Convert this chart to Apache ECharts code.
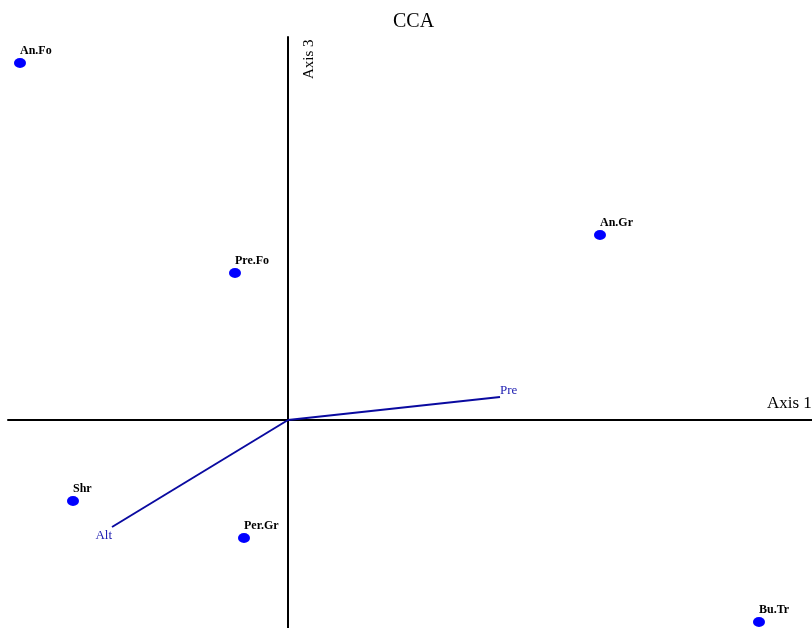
<!DOCTYPE html>
<html style="height: 100%">
<head>
    <meta charset="utf-8">
    <script src="https://cdn.jsdelivr.net/npm/echarts@6/dist/echarts.min.js"></script>
</head>
<body style="height: 100%; width: 100%; margin: 0; background-color: #ffffff;">

    <div id="container" style="width: 812px; height: 628px;"></div>

    <script type="text/javascript">
        // sites (scores)
        var siteNames = ['An.Fo', 'Pre.Fo', 'An.Gr', 'Shr', 'Per.Gr', 'Bu.Tr'];
        var siteX = [-2.68, -0.53, 3.12, -2.15, -0.44, 4.71];
        var siteY = [3.57, 1.47, 1.85, -0.81, -1.18, -2.02];

        // environmental vectors
        var envNames = ['Pre', 'Alt'];
        var envX = [2.12, -1.76];
        var envY = [0.23, -1.07];

        var dom = document.getElementById("container");
        var myChart = echarts.init(dom);
        var serif = '"Liberation Serif", "DejaVu Serif", serif';

        var siteData = [];
        for (var i = 0; i < siteNames.length; i++) {
            siteData.push({ name: siteNames[i], value: [siteX[i], siteY[i]] });
        }

        var series = [{
            type: 'scatter',
            data: siteData,
            symbol: 'circle',
            symbolSize: [12, 10],
            itemStyle: { color: '#0000ff', opacity: 1 },
            label: {
                show: true,
                position: 'top',
                align: 'left',
                distance: 1,
                formatter: '{b}',
                fontFamily: serif,
                fontWeight: 'bold',
                fontSize: 12,
                color: '#000000'
            },
            z: 3
        }];

        // arrows drawn from origin
        var envLabelPos = [
            { align: 'left', verticalAlign: 'bottom', offset: [0, 0] },
            { align: 'right', verticalAlign: 'top', offset: [0, 2] }
        ];
        for (var j = 0; j < envNames.length; j++) {
            series.push({
                type: 'line',
                name: envNames[j],
                data: [[0, 0], { value: [envX[j], envY[j]], name: envNames[j] }],
                symbol: 'none',
                lineStyle: { color: '#0a0aa0', width: 2 },
                endLabel: {
                    show: true,
                    formatter: envNames[j],
                    fontFamily: serif,
                    fontSize: 13,
                    color: '#1a1ab0',
                    distance: 0,
                    align: envLabelPos[j].align,
                    verticalAlign: envLabelPos[j].verticalAlign,
                    offset: envLabelPos[j].offset
                },
                animation: false,
                z: 2
            });
        }

        var option = {
            animation: false,
            title: {
                text: 'CCA',
                left: 388,
                top: 7,
                textStyle: { fontFamily: serif, fontWeight: 'normal', fontSize: 20, color: '#000' }
            },
            grid: { left: 8, right: 0, top: 37, bottom: 0, containLabel: false },
            xAxis: {
                type: 'value',
                min: -2.8,
                max: 5.24,
                axisLine: { onZero: true, lineStyle: { color: '#000', width: 2 } },
                axisTick: { show: false },
                axisLabel: { show: false },
                splitLine: { show: false }
            },
            yAxis: {
                type: 'value',
                min: -2.08,
                max: 3.83,
                axisLine: { onZero: true, lineStyle: { color: '#000', width: 2 } },
                axisTick: { show: false },
                axisLabel: { show: false },
                splitLine: { show: false }
            },
            graphic: [
                {
                    type: 'text',
                    x: 302,
                    y: 79,
                    rotation: Math.PI / 2,
                    style: { text: 'Axis 3', font: '15px ' + serif, fill: '#000', textAlign: 'left', textVerticalAlign: 'top' }
                },
                {
                    type: 'text',
                    x: 767,
                    y: 395,
                    style: { text: 'Axis 1', font: '17px ' + serif, fill: '#000', textAlign: 'left' }
                }
            ],
            series: series
        };

        myChart.setOption(option, true);
    </script>
</body>
</html>
